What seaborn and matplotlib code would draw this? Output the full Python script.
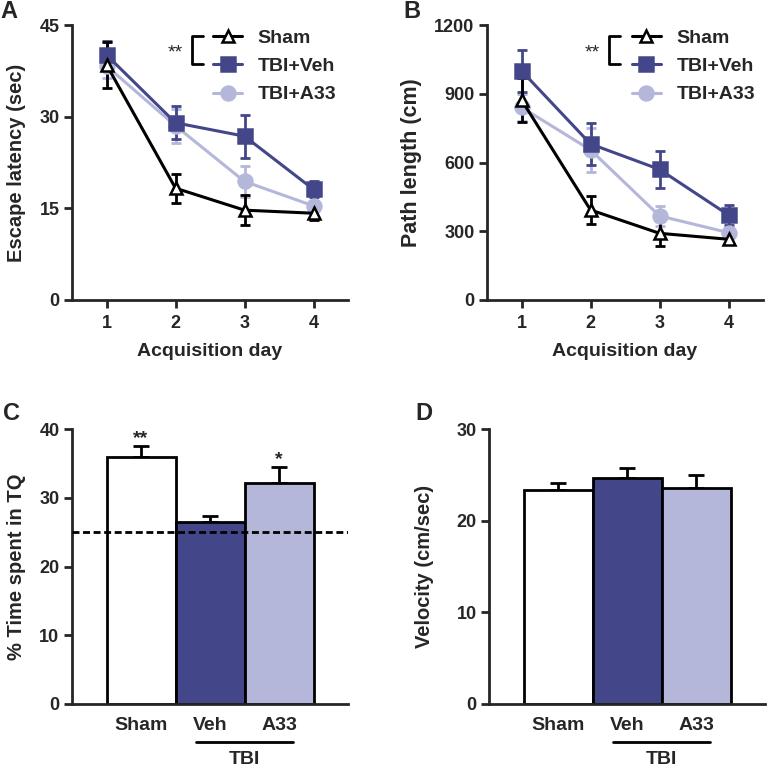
import numpy as np
import pandas as pd
import matplotlib
matplotlib.use('Agg')
import matplotlib.pyplot as plt
from matplotlib.lines import Line2D
import seaborn as sns

# ---- data ----
days = [1, 2, 3, 4]
groups = ['Sham', 'TBI+Veh', 'TBI+A33']

latency_mean = {'Sham': [38.5, 18.3, 14.7, 14.2],
                'TBI+Veh': [40.1, 29.0, 26.8, 18.1],
                'TBI+A33': [38.3, 28.5, 19.4, 15.4]}
latency_sem = {'Sham': [3.8, 2.4, 2.5, 1.1],
               'TBI+Veh': [2.2, 2.7, 3.5, 1.3],
               'TBI+A33': [2.0, 2.8, 2.5, 0.8]}

path_mean = {'Sham': [873, 393, 291, 265],
             'TBI+Veh': [1000, 681, 570, 371],
             'TBI+A33': [841, 655, 367, 294]}
path_sem = {'Sham': [95, 60, 55, 20],
            'TBI+Veh': [93, 90, 80, 42],
            'TBI+A33': [60, 95, 45, 20]}

bar_groups = ['Sham', 'Veh', 'A33']
tq_mean = [35.9, 26.5, 32.2]
tq_sem = [1.7, 0.9, 2.3]
chance_level = 25
velocity_mean = [23.4, 24.7, 23.6]
velocity_sem = [0.7, 1.0, 1.4]

DARK = '#434688'
LIGHT = '#b4b7d9'
line_colors = {'Sham': 'black', 'TBI+Veh': DARK, 'TBI+A33': LIGHT}
markers = {'Sham': '^', 'TBI+Veh': 's', 'TBI+A33': 'o'}
faces = {'Sham': 'white', 'TBI+Veh': DARK, 'TBI+A33': LIGHT}
msizes = {'Sham': 9, 'TBI+Veh': 10, 'TBI+A33': 10}
bar_colors = ['white', DARK, LIGHT]

sns.set_style('ticks')
plt.rcParams['font.family'] = ['Liberation Sans', 'DejaVu Sans']
plt.rcParams['font.weight'] = 'bold'
plt.rcParams['axes.labelweight'] = 'bold'
plt.rcParams['axes.linewidth'] = 2

fig = plt.figure(figsize=(7.67, 7.70), dpi=100)
axA = fig.add_axes([72 / 767, 470 / 770, 276 / 767, 275 / 770])
axB = fig.add_axes([487 / 767, 470 / 770, 276 / 767, 275 / 770])
axC = fig.add_axes([72 / 767, 66 / 770, 276 / 767, 275 / 770])
axD = fig.add_axes([489 / 767, 66 / 770, 276 / 767, 275 / 770])


def style_axis(ax):
    sns.despine(ax=ax)
    ax.tick_params(axis='y', length=6, width=2, pad=3, labelsize=13)
    for lab in ax.get_yticklabels():
        lab.set_fontweight('bold')


def line_panel(ax, means, sems, ylim, yticks, ylabel, label_x, label_size, leg_x, br_x):
    for g in ['TBI+A33', 'TBI+Veh', 'Sham']:
        df = pd.DataFrame({'day': days, 'val': means[g]})
        ax.errorbar(days, means[g], yerr=sems[g], fmt='none', ecolor=line_colors[g],
                    elinewidth=2, capsize=3.5, capthick=2, zorder=2)
        sns.lineplot(data=df, x='day', y='val', ax=ax, color=line_colors[g], lw=2.2,
                     marker=markers[g], markersize=msizes[g], markerfacecolor=faces[g],
                     markeredgecolor=line_colors[g], markeredgewidth=1.8, zorder=3)
    ax.set_xlim(0.5, 4.5)
    ax.set_ylim(*ylim)
    ax.set_xticks(days)
    ax.set_yticks(yticks)
    ax.set_xlabel('Acquisition day', fontsize=14, labelpad=8)
    ax.set_ylabel(ylabel, fontsize=label_size)
    ax.yaxis.set_label_coords(label_x, 0.5)
    ax.tick_params(axis='x', length=6, width=2, pad=5, labelsize=13)
    style_axis(ax)
    handles = [Line2D([], [], color=line_colors[g], lw=2.2, marker=markers[g],
                      markersize=msizes[g], markerfacecolor=faces[g],
                      markeredgecolor=line_colors[g], markeredgewidth=1.8) for g in groups]
    ax.legend(handles, groups, loc='upper left', bbox_to_anchor=(leg_x, 0.985), frameon=False,
              fontsize=14, handlelength=1.5, handletextpad=0.8, labelspacing=0.55,
              borderpad=0, borderaxespad=0)
    # significance bracket between Sham and TBI+Veh legend rows
    ax.plot([br_x + 0.04, br_x, br_x, br_x + 0.04], [0.96, 0.96, 0.858, 0.858],
            transform=ax.transAxes, color='black', lw=2, clip_on=False)
    ax.text(br_x - 0.032, 0.9, '**', transform=ax.transAxes, ha='right', va='center',
            fontsize=14, fontweight='normal')


def bar_panel(ax, means, sems, ylim, yticks, ylabel, label_x, label_size):
    df = pd.DataFrame({'group': bar_groups, 'val': means})
    sns.barplot(data=df, x='group', y='val', hue='group', palette=bar_colors, legend=False,
                edgecolor='black', linewidth=2, width=1.0, errorbar=None, saturation=1,
                ax=ax, zorder=2)
    ax.errorbar(range(len(means)), means, yerr=[np.zeros(len(sems)), sems], fmt='none',
                ecolor='black', elinewidth=2, capsize=5.5, capthick=2, zorder=1)
    ax.set_xlim(-1, 3)
    ax.set_ylim(*ylim)
    ax.set_yticks(yticks)
    ax.set_xlabel('')
    ax.set_ylabel(ylabel, fontsize=label_size)
    ax.yaxis.set_label_coords(label_x, 0.5)
    ax.tick_params(axis='x', length=0, pad=9, labelsize=14)
    for lab in ax.get_xticklabels():
        lab.set_fontweight('bold')
    style_axis(ax)
    ax.plot([0.8, 2.2], [-0.138, -0.138], transform=ax.get_xaxis_transform(),
            color='black', lw=2, clip_on=False)
    ax.text(1.5, -0.2, 'TBI', transform=ax.get_xaxis_transform(), ha='center', va='center',
            fontsize=14, fontweight='bold')


line_panel(axA, latency_mean, latency_sem, (0, 45), [0, 15, 30, 45],
           'Escape latency (sec)', -0.165, 14.5, 0.511, 0.435)
line_panel(axB, path_mean, path_sem, (0, 1200), [0, 300, 600, 900, 1200],
           'Path length (cm)', -0.235, 15.5, 0.525, 0.442)
bar_panel(axC, tq_mean, tq_sem, (0, 40), [0, 10, 20, 30, 40], '% Time spent in TQ',
          -0.165, 14.5)
bar_panel(axD, velocity_mean, velocity_sem, (0, 30), [0, 10, 20, 30], 'Velocity (cm/sec)',
          -0.2, 14.5)

axC.axhline(chance_level, color='black', lw=2, ls=(0, (2.5, 1.3)), zorder=3)

# significance marks over bars
axC.text(0, tq_mean[0] + tq_sem[0] - 0.2, '**', ha='center', va='bottom', fontsize=14)
axC.text(2, tq_mean[2] + tq_sem[2] - 0.2, '*', ha='center', va='bottom', fontsize=14)

# panel letters
for label, x, y in [('A', 9, 12), ('B', 412, 12), ('C', 11, 413), ('D', 424, 413)]:
    fig.text(x / 767, 1 - y / 770, label, ha='center', va='center', fontsize=17,
             fontweight='bold')

fig.savefig('out.png', dpi=100)
